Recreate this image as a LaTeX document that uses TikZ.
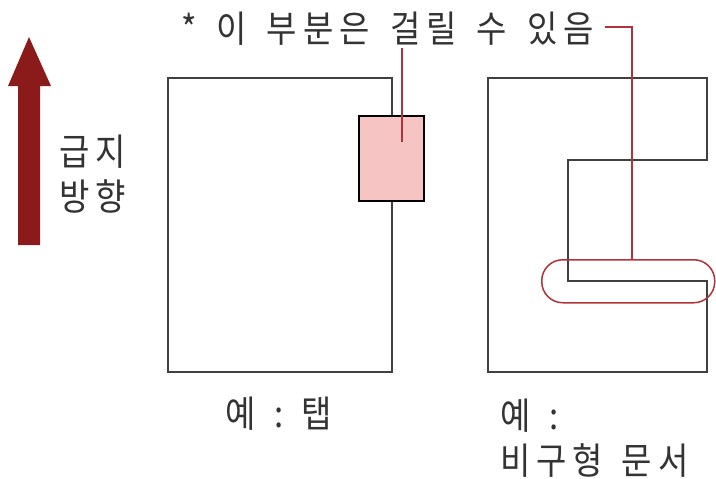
\documentclass[tikz,border=0pt]{standalone}
\usepackage{fontspec}
\newfontfamily\kr{Noto Sans CJK KR}
\newcommand\kk{\kern6pt}
\newcommand\ws{\hspace{18.5pt}}
\newcommand\wt{\hspace{20pt}}
\newcommand\tall[1]{\scalebox{1}[1.12]{#1}}
\definecolor{arrowred}{HTML}{8B1A1A}
\definecolor{leadred}{HTML}{B0323A}
\definecolor{pinkfill}{HTML}{F7C4C4}
\definecolor{txt}{HTML}{333333}
\begin{document}
\begin{tikzpicture}[x=1pt,y=-1pt,
  paper/.style={draw=black!75,line width=2.2pt,line join=miter},
  leader/.style={draw=leadred,line width=2pt},
  lbl/.style={font=\kr\fontsize{33}{40}\selectfont,text=txt,inner sep=0pt,anchor=west}]
\useasboundingbox (0,0) rectangle (716,479);
% feed direction arrow
\fill[arrowred] (18,245) -- (18,86) -- (8,86) -- (29,37) -- (51,86) -- (40,86) -- (40,245) -- cycle;
\node[lbl] (feed1) at (59,152) {\tall{급\kk 지}};
\node[lbl] (feed2) at (59,197) {\tall{방\kk 향}};
% left paper
\draw[paper] (168,78) rectangle (392,372);
\node[draw=black,line width=1.6pt,fill=pinkfill,minimum width=65pt,minimum height=85pt,inner sep=0pt,anchor=north west] (tab) at (358,115) {};
% right paper
\draw[paper] (488,78) -- (707,78) -- (707,160) -- (568,160) -- (568,281) -- (707,281) -- (707,372) -- (488,372) -- cycle;
% top note
\node[lbl] (note) at (181,29) {\tall{*\wt 이\wt 부\kk 분\kk 은\wt 걸\kk 릴\wt 수\wt 있\kk 음}};
\coordinate (tabpt) at (402,142);
\coordinate (noteleft) at (402,48);
\draw[leader] (noteleft) -- (tabpt);
\node[draw=leadred,line width=1.5pt,rounded corners=21pt,minimum width=173pt,minimum height=43pt,inner sep=0pt,anchor=north west] (oval) at (541,259) {};
\coordinate (c1) at (605,27);
\coordinate (c2) at (632,27);
\draw[leader] (c1) -- (c2) -- (oval.north -| c2);
% labels
\node[lbl] (ex1) at (225,414) {\tall{예\ws :\ws 탭}};
\node[lbl] (ex2) at (500,416) {\tall{예\ws :}};
\node[lbl] (ex3) at (500,461) {\tall{비\kk 구\kk 형\ws 문\kk 서}};
\end{tikzpicture}
\end{document}
